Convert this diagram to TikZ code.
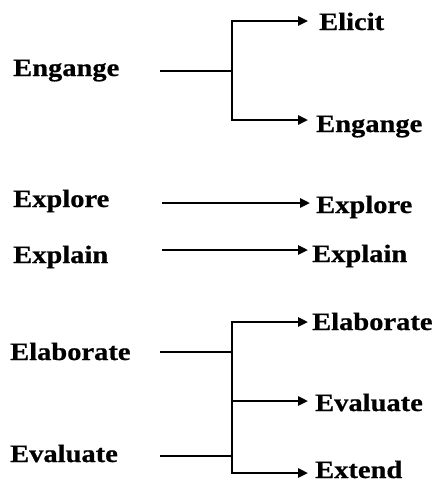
\documentclass[tikz,border=0pt]{standalone}
\usepackage{fontspec}
\setmainfont[FakeStretch=1.14,BoldFeatures={FakeBold=0.6}]{Liberation Serif}
\usetikzlibrary{arrows.meta}
\begin{document}
\begin{tikzpicture}[x=1pt,y=-1pt,
  lbl/.style={anchor=base west,inner sep=0pt,font=\fontsize{25}{27}\selectfont\bfseries},
  ln/.style={line width=2.4pt},
  arr/.style={line width=2.4pt,-{Triangle[length=10pt,width=9pt]}}]
\useasboundingbox (0,0) rectangle (436,483);
% labels left
\node[lbl] (l1) at (13,76) {Engange};
\node[lbl] (l2) at (13,207) {Explore};
\node[lbl] (l3) at (13,263) {Explain};
\node[lbl] (l4) at (10,360) {Elaborate};
\node[lbl] (l5) at (10,462) {Evaluate};
% labels right
\node[lbl] (r1) at (319,30) {Elicit};
\node[lbl] (r2) at (316,132) {Engange};
\node[lbl] (r3) at (316,213) {Explore};
\node[lbl] (r4) at (312,262) {Explain};
\node[lbl] (r5) at (312,330) {Elaborate};
\node[lbl] (r6) at (315,411) {Evaluate};
\node[lbl] (r7) at (315,478) {Extend};
% coordinates
\coordinate (s1) at (160,71);
\coordinate (j1) at (232,71);
\coordinate (t1) at (308,21);
\coordinate (t2) at (308,120);
\coordinate (s2) at (162,203);
\coordinate (t3) at (310,203);
\coordinate (s3) at (162,250);
\coordinate (t4) at (308,250);
\coordinate (s4) at (160,352);
\coordinate (j4) at (232,352);
\coordinate (s5) at (160,456);
\coordinate (j5) at (232,456);
\coordinate (t5) at (308,322);
\coordinate (t6) at (308,401);
\coordinate (t7) at (308,473);
% connectors
\draw[ln] (s1) -- (j1);
\draw[arr] (j1) |- (t1);
\draw[arr] (j1) |- (t2);
\draw[arr] (s2) -- (t3);
\draw[arr] (s3) -- (t4);
\draw[ln] (s4) -- (j4);
\draw[ln] (s5) -- (j5);
\draw[arr] (j4) |- (t5);
\draw[arr] (j5) |- (t7);
\draw[arr] (j4 |- t6) -- (t6);
\draw[ln] (j4) -- (j5);
\end{tikzpicture}
\end{document}
